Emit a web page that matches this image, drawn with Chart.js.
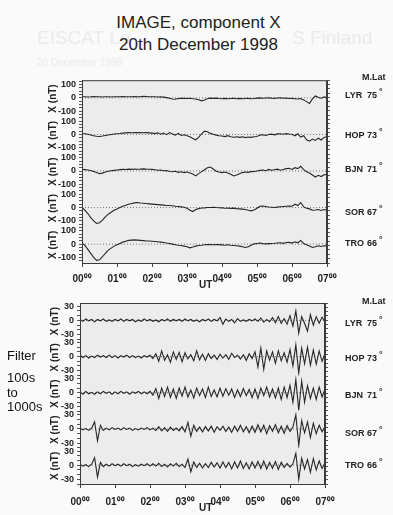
<!DOCTYPE html>
<html>
<head>
<meta charset="utf-8">
<script src="https://cdn.jsdelivr.net/npm/chart.js@4/dist/chart.umd.min.js"></script>
<style>
html,body{margin:0;padding:0;background:#fafafa;}
body{width:393px;height:515px;position:relative;overflow:hidden;font-family:"Liberation Sans",Arial,sans-serif;color:#222;}
.t{position:absolute;white-space:nowrap;line-height:1;}
.ghost{color:#ebebeb;}
.st{font-family:"Liberation Sans Narrow","Liberation Sans",sans-serif;font-weight:bold;font-size:9px;transform:translateY(-50%);}
.lab{font-size:13px;left:7px;transform:translateY(-50%);color:#111;}
canvas{position:absolute;left:0;}
</style>
</head>
<body>
<div class="t ghost" style="left:37px;top:28px;font-size:19px">EISCAT Lo</div>
<div class="t ghost" style="left:292px;top:28px;font-size:19px">S Finland</div>
<div class="t ghost" style="left:37px;top:58px;font-size:10px">20 December 1998</div>
<div class="t" style="left:0;width:397px;text-align:center;top:12px;font-size:17px;line-height:22px">IMAGE, component X<br>20th December 1998</div>

<canvas id="top" width="393" height="218" style="top:70px"></canvas>
<canvas id="bot" width="393" height="217" style="top:292px"></canvas>

<div id="labels"></div>
<div class="t lab" style="top:355px">Filter</div>
<div class="t lab" style="top:377px">100s</div>
<div class="t lab" style="top:392px">to</div>
<div class="t lab" style="top:406px">1000s</div>
<div class="t" style="left:199px;top:280px;font-size:10px;font-weight:bold">UT</div>
<div class="t" style="left:199px;top:503px;font-size:10px;font-weight:bold">UT</div>

<script>
const hours=['00','01','02','03','04','05','06','07'];
const stations=['LYR','HOP','BJN','SOR','TRO'];
const mlat=['75','73','71','67','66'];
// 5 minute samples from 00 to 07 UT
const t5=Array.from({length:85},(_,i)=>i/12);

// IMAGE X component, nT
const xLYR=[8,9,7,8,10,9,8,7,9,8,7,8,
 9,8,10,9,8,9,10,8,9,11,10,9,
 8,9,7,8,6,2,-3,-8,-10,-5,-3,-4,
 -5,-3,-6,-8,-14,-22,-16,-6,-2,-4,-2,-5,
 -6,-4,-7,-5,-3,-6,-4,-7,-5,-4,-6,-5,
 -2,0,-3,-1,1,-2,-4,-1,0,-3,-2,-5,
 -4,-6,-8,-5,-15,-28,-42,-8,14,4,-3,7,2];
const xHOP=[7,5,2,-4,-10,-14,-15,-12,-8,-4,0,3,
 5,7,10,12,14,13,15,14,15,13,14,12,
 10,6,12,2,10,-2,14,3,-5,8,-8,-2,
 -10,-18,-30,-40,-22,5,25,20,8,2,-5,-10,
 -12,-16,-9,-18,-21,-17,-22,-18,-24,-19,-22,-17,
 -15,-5,-2,-8,0,2,-3,4,5,2,6,3,
 2,-10,5,-20,-10,-40,-50,-35,-45,-28,-42,-22,-15];
const xBJN=[12,10,8,4,-4,-12,-20,-16,-8,-2,2,5,
 8,10,12,11,14,12,15,13,14,16,14,13,
 12,10,6,8,2,4,-4,-6,-2,-10,-6,-12,
 -8,-15,-22,-37,-20,-5,10,25,30,15,-2,-8,
 -12,-8,-15,-25,-37,-30,-20,-12,-8,-10,-5,-4,
 0,5,8,2,12,6,10,14,6,12,18,20,
 12,25,18,35,10,-5,-15,-30,-45,-32,-42,-28,-25];
const xSOR=[0,-20,-45,-75,-100,-120,-115,-95,-70,-50,-35,-20,
 -10,0,10,18,25,30,35,38,34,32,30,28,
 26,24,22,20,18,16,15,14,10,8,5,2,
 -5,-20,-30,-15,-8,-3,-2,0,1,2,0,-1,
 -2,-5,-3,-6,-4,-8,-10,-12,-15,-20,-25,-18,
 -5,10,12,8,4,2,0,3,6,8,10,12,
 10,25,15,38,5,-5,-10,-20,-18,-15,-22,-15,-20];
const xTRO=[10,-10,-40,-70,-100,-122,-118,-95,-70,-45,-30,-15,
 -5,5,15,22,28,30,32,30,28,26,24,24,
 22,20,18,15,12,8,5,0,-5,-8,-10,-15,
 -20,-28,-22,-15,-10,-8,-5,-3,-4,-5,-3,-4,
 -6,-8,-5,-8,-10,-12,-15,-20,-25,-20,-8,2,
 5,8,4,2,4,5,6,8,10,6,12,14,
 8,18,10,28,5,-5,-15,-25,-20,-12,-18,-12,-15];

// band-pass 100s-1000s, nT
const fLYR=[2,-2,3,-1,2,-3,2,-1,3,-2,1,-2,
 2,-1,3,-2,2,-1,2,-3,1,-2,3,-1,
 2,-2,1,-3,2,-1,3,-2,2,-1,2,-2,
 3,-1,2,-2,1,-3,2,-1,3,-2,2,-1,
 6,-8,3,-2,2,-5,4,-2,1,-2,2,-1,
 3,-2,5,-4,2,-3,6,-5,8,-6,4,-8,
 10,-12,20,-27,8,-6,-23,12,-10,8,-6,7,-4];
const fHOP=[3,-2,2,-3,1,-2,3,-1,2,-2,3,-2,
 2,-3,2,-1,3,-2,2,-2,1,-3,2,-1,
 3,-4,6,-10,12,-8,4,-12,10,-6,9,-11,
 8,-5,4,-9,12,-7,5,-8,6,-4,3,-6,
 5,-3,4,-6,7,-2,3,-5,4,-8,6,-4,
 10,-22,18,-27,12,-8,10,-14,12,-9,8,-12,
 15,-20,25,-35,18,-15,20,-18,14,-16,12,-10,6];
const fBJN=[2,-3,3,-2,1,-3,2,-2,3,-1,2,-3,
 2,-2,3,-1,2,-3,2,-1,3,-2,2,-2,
 3,-5,9,-12,10,-8,12,-10,8,-12,10,-7,
 12,-9,6,-11,10,-6,8,-10,12,-8,6,-9,
 10,-7,9,-5,8,-10,6,-8,9,-6,7,-10,
 8,-12,10,-6,12,-9,8,-11,10,-14,12,-10,
 16,-20,28,-37,25,-20,15,-12,10,-14,12,-9,8];
const fSOR=[2,-2,1,-3,2,15,-25,8,-3,2,-2,3,
 -1,2,-2,3,-1,2,-3,1,-2,2,-1,3,
 -2,2,-3,5,-4,3,-5,4,-3,2,-4,5,
 -6,14,-15,8,-5,4,-6,5,-4,6,-7,5,
 -3,6,-5,4,-7,6,-5,8,-6,5,-8,6,
 -7,9,-6,8,-10,7,-5,9,-8,6,-9,7,
 -5,4,30,-35,18,-8,15,-18,12,-10,8,-6,5];
const fTRO=[2,-2,1,-3,2,16,-25,6,-3,2,-2,3,
 -1,2,-2,3,-1,2,-3,1,-2,2,-1,3,
 -2,3,-2,4,-3,2,-4,3,-2,4,-3,2,
 -5,13,-14,7,-5,4,-6,3,-5,6,-4,5,
 -6,7,-5,6,-8,7,-6,9,-7,5,-8,7,
 -6,8,-7,9,-8,6,-7,8,-9,6,-5,4,
 -4,3,25,-30,15,-8,12,-15,14,-10,9,-7,5];

const F='"Liberation Sans", Arial, sans-serif';

// grey plot area + box round it
const frame={id:'frame',
  beforeDraw(c){const a=c.chartArea,x=c.ctx;x.save();x.fillStyle='#ececec';x.fillRect(a.left,a.top,a.width,a.height);x.restore();},
  afterDraw(c){const a=c.chartArea,x=c.ctx;x.save();x.strokeStyle='#3a3a3a';x.lineWidth=1;x.strokeRect(a.left+.5,a.top+.5,a.width-1,a.height);x.restore();}
};

function panel(id,series,lo,hi,step,major,o){
  // tick marks every `step`, labels only on the major values
  const marks=[];
  for(let v=Math.ceil(lo/step)*step;v<=hi;v+=step) marks.push(v);
  const scales={x:{type:'linear',min:0,max:7,
    ticks:{stepSize:1,autoSkip:false,maxRotation:0,padding:o.xpad,color:'#222',font:{size:10,weight:'bold',family:F},callback:v=>hours[v]+'⁰⁰'},
    grid:{drawOnChartArea:false,tickLength:4,color:'#444'},border:{color:'#3a3a3a'},
    afterFit:s=>{s.height=25;}}};
  for(let i=4;i>=0;i--){
    scales['y'+i]={type:'linear',position:'left',stack:id,stackWeight:1,min:lo,max:hi,
      afterBuildTicks:s=>{s.ticks=marks.map(v=>({value:v}));},
      ticks:{autoSkip:false,padding:3,color:'#222',font:{size:9,weight:'bold',family:F},
        callback:v=>major.includes(v)?String(v):''},
      grid:{drawOnChartArea:false,tickLength:3,color:'#555'},border:{color:'#3a3a3a'},
      title:{display:true,text:'X (nT)',color:'#222',font:{size:10,weight:'bold',family:F},padding:{top:o.tpad,bottom:0}},
      afterFit:s=>{s.width=o.left;}};
  }
  scales.yr={type:'linear',position:'right',min:0,max:42,
    ticks:{stepSize:1,autoSkip:false,callback:()=>''},
    grid:{drawOnChartArea:false,tickLength:3,color:'#555'},border:{color:'#3a3a3a'},
    afterFit:s=>{s.width=4;}};
  const datasets=[];
  series.forEach((d,i)=>{
    datasets.push({data:t5.map((t,j)=>({x:t,y:d[j]})),yAxisID:'y'+i,borderColor:'#262626',borderWidth:1.1,pointRadius:0,order:1});
    datasets.push({data:[{x:0,y:0},{x:7,y:0}],yAxisID:'y'+i,borderColor:'#777',borderWidth:1,borderDash:[1,2],pointRadius:0,order:2});
  });
  new Chart(document.getElementById(id),{type:'line',data:{datasets},
    options:{responsive:false,animation:false,
      layout:{padding:{top:o.top,right:o.right,left:0,bottom:0}},
      plugins:{legend:{display:false},tooltip:{enabled:false}},scales},
    plugins:[frame]});
}

panel('top',[xLYR,xHOP,xBJN,xSOR,xTRO],-142,133,25,[-100,0,100],{top:10,right:62,left:82,tpad:47,xpad:6});
panel('bot',[fLYR,fHOP,fBJN,fSOR,fTRO],-40,37,10,[-30,0,30],{top:11,right:64,left:80,tpad:49,xpad:8});

// station names and magnetic latitudes
const lab=document.getElementById('labels');
const topY=[95,135,169,212,243], botY=[323,358,395,433,465];
function addLabels(ys,mY){
  lab.insertAdjacentHTML('beforeend',`<div class="t st" style="left:362px;top:${mY}px">M.Lat</div>`);
  ys.forEach((y,i)=>{
    lab.insertAdjacentHTML('beforeend',
      `<div class="t st" style="left:345px;top:${y}px">${stations[i]}</div>`+
      `<div class="t st" style="left:367px;top:${y}px">${mlat[i]}</div>`+
      `<div class="t st" style="left:379px;top:${y-4}px">°</div>`);
  });
}
addLabels(topY,77);
addLabels(botY,301);
</script>
</body>
</html>
